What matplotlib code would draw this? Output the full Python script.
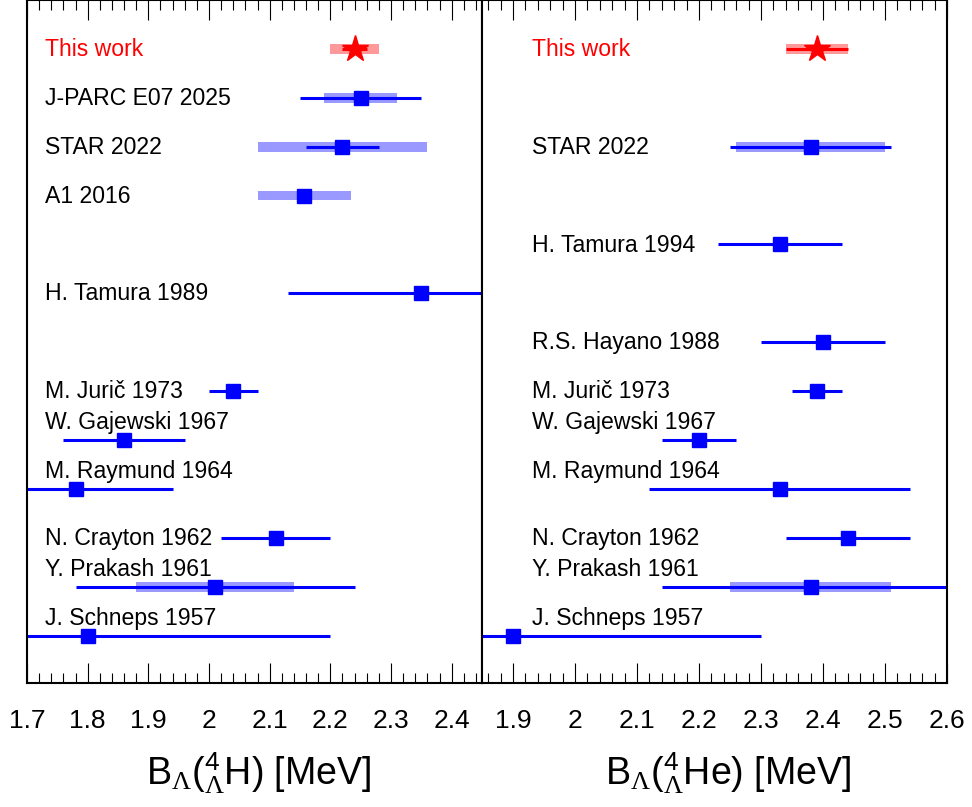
import matplotlib
matplotlib.use('Agg')
import matplotlib.pyplot as plt
from matplotlib.ticker import MultipleLocator, FormatStrFormatter

plt.rcParams['font.family'] = ['Liberation Sans', 'DejaVu Sans']
plt.rcParams['mathtext.fontset'] = 'custom'
plt.rcParams['mathtext.rm'] = 'Liberation Serif'
plt.rcParams['mathtext.it'] = 'Liberation Serif'
plt.rcParams['mathtext.sf'] = 'Liberation Sans'

# --- B_Lambda(4_Lambda H) ---
h_names = ['This work', 'J-PARC E07 2025', 'STAR 2022', 'A1 2016', 'H. Tamura 1989',
           'M. Jurič 1973', 'W. Gajewski 1967', 'M. Raymund 1964', 'N. Crayton 1962',
           'Y. Prakash 1961', 'J. Schneps 1957']
h_rows = [0, 1, 2, 3, 5, 7, 8, 9, 10, 11, 12]
h_val = [2.24, 2.25, 2.22, 2.157, 2.35, 2.04, 1.86, 1.78, 2.11, 2.01, 1.80]
h_stat = [0.02, 0.10, 0.06, 0.005, 0.22, 0.04, 0.10, 0.16, 0.09, 0.23, 0.40]
h_sys = [0.04, 0.06, 0.14, 0.077, 0, 0, 0, 0, 0, 0.13, 0]

# --- B_Lambda(4_Lambda He) ---
he_names = ['This work', 'STAR 2022', 'H. Tamura 1994', 'R.S. Hayano 1988',
            'M. Jurič 1973', 'W. Gajewski 1967', 'M. Raymund 1964', 'N. Crayton 1962',
            'Y. Prakash 1961', 'J. Schneps 1957']
he_rows = [0, 2, 4, 6, 7, 8, 9, 10, 11, 12]
he_val = [2.39, 2.38, 2.33, 2.40, 2.39, 2.20, 2.33, 2.44, 2.38, 1.90]
he_stat = [0.05, 0.13, 0.10, 0.10, 0.04, 0.06, 0.21, 0.10, 0.24, 0.40]
he_sys = [0.05, 0.12, 0, 0, 0, 0, 0, 0, 0.13, 0]

# labels drawn above their point instead of beside it
LABEL_ABOVE = {'W. Gajewski 1967', 'M. Raymund 1964', 'Y. Prakash 1961', 'J. Schneps 1957'}

W, H = 972, 807
fig = plt.figure(figsize=(W / 100, H / 100), dpi=100)
ax_h = fig.add_axes([27 / W, 124 / H, 455 / W, 683 / H])
ax_he = fig.add_axes([482 / W, 124 / H, 465 / W, 683 / H])


def draw_panel(ax, names, rows, vals, stat, sys, xlim, xticks, label_x):
    for name, r, v, st, sy in zip(names, rows, vals, stat, sys):
        ours = name == 'This work'
        dark = 'red' if ours else 'blue'
        light = '#ff9999' if ours else '#9999ff'
        if sy > 0:
            ax.barh(r, 2 * sy, left=v - sy, height=0.2, color=light, zorder=1)
        ax.plot([v - st, v + st], [r, r], color=dark, lw=2.2,
                solid_capstyle='butt', zorder=2)
        if ours:
            ax.plot(v, r, marker='*', ms=20, color='red', mec='red', zorder=3)
        else:
            ax.plot(v, r, marker='s', ms=10, color='blue', mec='blue', zorder=3)
        dy = -0.22 if name in LABEL_ABOVE else 0.145
        ax.text(label_x, r + dy, name, transform=ax.get_yaxis_transform(),
                fontsize=16.6, va='baseline', ha='left', color=dark if ours else 'black')

    ax.set_xlim(*xlim)
    ax.set_ylim(12.97, -1.0)
    ax.set_xticks(xticks)
    ax.xaxis.set_minor_locator(MultipleLocator(0.02))
    ax.xaxis.set_major_formatter(FormatStrFormatter('%g'))
    ax.set_yticks([])
    ax.tick_params(which='both', direction='in', top=True, bottom=True,
                   left=False, right=False, width=0.8, colors='black')
    ax.tick_params(which='major', length=14.4, labelsize=19, pad=19)
    ax.tick_params(which='minor', length=7.2)
    for sp in ax.spines.values():
        sp.set_linewidth(1.5)


draw_panel(ax_h, h_names, h_rows, h_val, h_stat, h_sys, (1.7, 2.45),
           [1.7, 1.8, 1.9, 2.0, 2.1, 2.2, 2.3, 2.4], 0.0385)
draw_panel(ax_he, he_names, he_rows, he_val, he_stat, he_sys, (1.85, 2.6),
           [1.9, 2.0, 2.1, 2.2, 2.3, 2.4, 2.5, 2.6], 0.107)

fig.text(259 / W, 22 / H, r'B$_{\Lambda}$($^{\mathsf{4}}_{\Lambda}$H) [MeV]',
         fontsize=27, ha='center', va='baseline')
fig.text(728 / W, 22 / H, r'B$_{\Lambda}$($^{\mathsf{4}}_{\Lambda}$He) [MeV]',
         fontsize=27, ha='center', va='baseline')

fig.savefig('out.png', dpi=100)
